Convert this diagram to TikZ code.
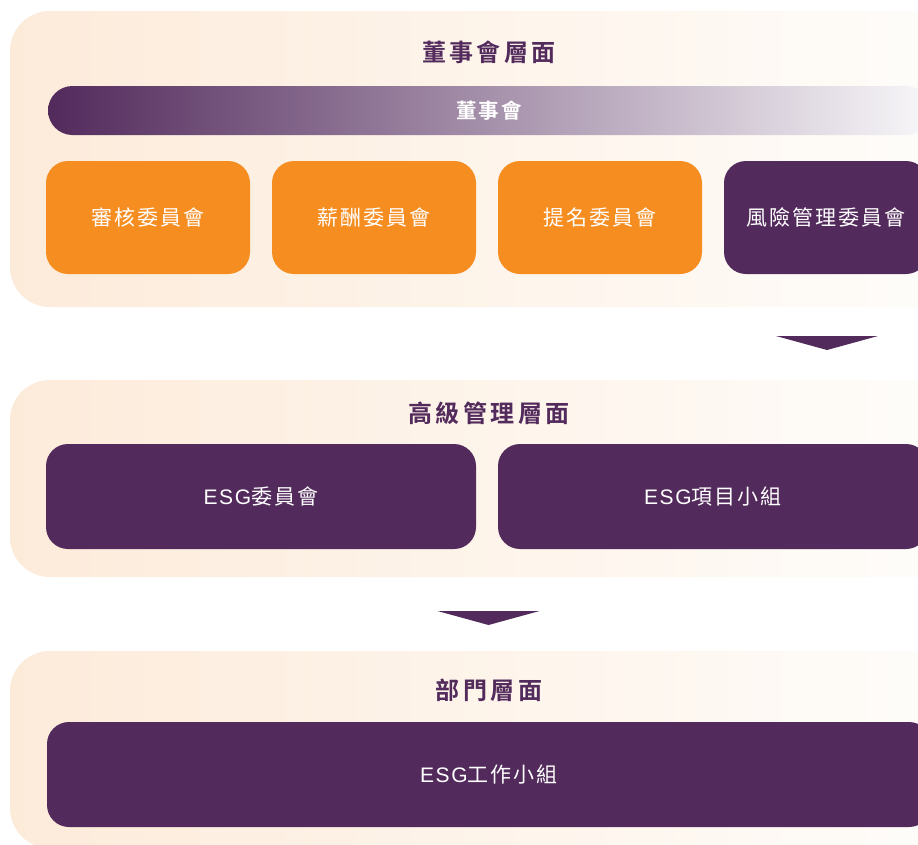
\documentclass[tikz,border=0pt]{standalone}
\usepackage{fontspec}
\newfontfamily\titlefont[LetterSpace=14]{Noto Sans CJK TC Bold}
\newfontfamily\barfont[LetterSpace=11]{Noto Sans CJK TC Bold}
\newfontfamily\boxfont[LetterSpace=10]{Noto Sans CJK TC}
\newfontfamily\latinfont[LetterSpace=8]{Liberation Sans}
\definecolor{purp}{HTML}{522A5C}
\definecolor{purpmid}{HTML}{8E7792}
\definecolor{purpend}{HTML}{F8F7F9}
\definecolor{orng}{HTML}{F68D21}
\definecolor{peach}{HTML}{FDEBDA}
\definecolor{offw}{HTML}{FEFDFB}
\newcommand{\esgtxt}{{\latinfont ESG}}
\tikzset{
  panel/.style={left color=peach, right color=offw, draw=none, rounded corners=40pt,
    inner sep=0pt, minimum width=958pt},
  gbar/.style={left color=purp, middle color=purpmid, right color=purpend, draw=none,
    rounded corners=24.5pt, inner sep=0pt, minimum width=882pt, minimum height=49pt,
    text=white, font=\barfont\fontsize{20.5}{24}\selectfont},
  ttl/.style={text=purp, inner sep=0pt, font=\titlefont\fontsize{24}{28}\selectfont},
  cbox/.style={fill=#1, draw=none, rounded corners=22pt, inner sep=0pt,
    text=white, font=\boxfont\fontsize{21}{25}\selectfont},
  smallbox/.style={cbox=#1, minimum width=204pt, minimum height=113pt},
  widebox/.style={cbox=purp, minimum width=430pt, minimum height=105pt},
  fullbox/.style={cbox=purp, minimum width=884pt, minimum height=105pt},
  downtri/.style={fill=purp, draw=none},
}
\begin{document}
\begin{tikzpicture}[x=1pt,y=-1pt]
\useasboundingbox (0,0) rectangle (918,844);
\clip (0,0) rectangle (918,844);
\fill[white] (0,0) rectangle (918,844);

% panels
\node[panel, minimum height=296pt] (p1) at (489,159) {};
\node[panel, minimum height=197pt] (p2) at (489,478.5) {};
\node[panel, minimum height=197pt] (p3) at (489,749.5) {};

% board level
\node[ttl] (t1) at (489,52) {董事會層面};
\node[gbar] (board) at (489,110.5) {董事會};
\node[smallbox=orng] (audit) at (148,217.5) {審核委員會};
\node[smallbox=orng] (remun) at (374,217.5) {薪酬委員會};
\node[smallbox=orng] (nomin) at (600,217.5) {提名委員會};
\node[smallbox=purp] (risk) at (826,217.5) {風險管理委員會};

% arrow 1
\coordinate (a1) at (827,336);
\fill[downtri] (a1) ++(-51,0) -- ++(102,0) -- ++(-51,14) -- cycle;

% senior management level
\node[ttl] (t2) at (489,413) {高級管理層面};
\node[widebox] (esgc) at (261,496.5) {\esgtxt 委員會};
\node[widebox] (esgp) at (713,496.5) {\esgtxt 項目小組};

% arrow 2
\coordinate (a2) at (488.5,611);
\fill[downtri] (a2) ++(-51,0) -- ++(102,0) -- ++(-51,14) -- cycle;

% department level
\node[ttl] (t3) at (489,690) {部門層面};
\node[fullbox] (esgw) at (489,774.5) {\esgtxt 工作小組};
\end{tikzpicture}
\end{document}
